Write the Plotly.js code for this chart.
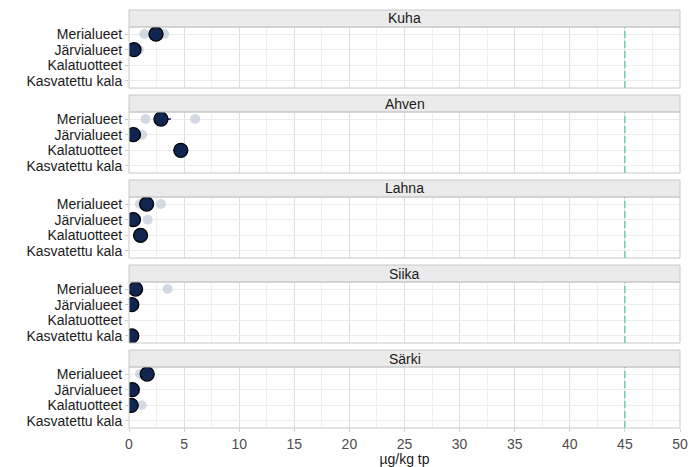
<!DOCTYPE html>
<html>
<head>
<meta charset="utf-8">
<script src="https://cdn.plot.ly/plotly-3.0.1.min.js"></script>
<style>html,body{margin:0;padding:0;background:#fff;}#chart{width:691px;height:467px;}</style>
</head>
<body>
<div id="chart"></div>
<script>
// ---- data ----
const fish = ['Kuha', 'Ahven', 'Lahna', 'Siika', 'Särki'];
const categories = ['Merialueet', 'Järvialueet', 'Kalatuotteet', 'Kasvatettu kala'];
// mean values per fish (order follows categories), null = no data
const meanKuha  = [2.45, 0.45, null, null];
const meanAhven = [2.9, 0.4, 4.7, null];
const meanLahna = [1.6, 0.4, 1.05, null];
const meanSiika = [0.6, 0.25, null, 0.25];
const meanSarki = [1.65, 0.3, 0.2, null];
const means = [meanKuha, meanAhven, meanLahna, meanSiika, meanSarki];
// individual (light) values
const sampleFish     = ['Kuha', 'Kuha', 'Kuha', 'Ahven', 'Ahven', 'Ahven', 'Lahna', 'Lahna', 'Lahna', 'Siika', 'Särki', 'Särki'];
const sampleCategory = ['Merialueet', 'Merialueet', 'Järvialueet', 'Merialueet', 'Merialueet', 'Järvialueet', 'Merialueet', 'Merialueet', 'Järvialueet', 'Merialueet', 'Merialueet', 'Kalatuotteet'];
const sampleValue    = [1.4, 3.2, 0.9, 1.5, 6.0, 1.2, 1.0, 2.9, 1.7, 3.5, 1.0, 1.15];
// range segment (dark line)
const segFish = ['Ahven'];
const segCategory = ['Merialueet'];
const segFrom = [2.9];
const segTo = [3.8];
const limitValue = 45;
const xTicks = [0, 5, 10, 15, 20, 25, 30, 35, 40, 45, 50];
const xTitle = 'µg/kg tp';

// ---- layout geometry ----
const W = 691, H = 467;
const mT = 27, mB = 39, mL = 129, mR = 11;
const plotH = H - mT - mB;
const period = 85, panelH = 61, stripH = 17;
const FONT = 'Liberation Sans, Arial, sans-serif';

const traces = [];
const layout = {
  width: W, height: H,
  margin: {l: mL, r: mR, t: mT, b: mB, pad: 0},
  paper_bgcolor: '#fff', plot_bgcolor: '#fff',
  showlegend: false,
  font: {family: FONT, size: 14, color: '#1a1a1a'},
  shapes: [], annotations: [],
  xaxis: {
    range: [0, 50], tickmode: 'array', tickvals: xTicks, ticktext: xTicks.map(String),
    showgrid: true, gridcolor: '#dedede', gridwidth: 1,
    minor: {dtick: 2.5, tick0: 0, showgrid: true, gridcolor: '#efefef', gridwidth: 1},
    zeroline: false, showline: false,
    ticks: 'outside', ticklen: 3, tickcolor: '#cfcfcf',
    tickfont: {family: FONT, size: 14, color: '#4d4d4d'},
    title: {text: xTitle, font: {family: FONT, size: 14, color: '#1a1a1a'}, standoff: 0},
    anchor: 'y5', fixedrange: true
  }
};

function pix2paper(p) { return (H - mB - p) / plotH; }

fish.forEach((f, i) => {
  const top = mT + i * period;
  const bottom = top + panelH;
  const yname = i === 0 ? 'y' : 'y' + (i + 1);
  const ykey = i === 0 ? 'yaxis' : 'yaxis' + (i + 1);
  layout[ykey] = {
    domain: [pix2paper(bottom), pix2paper(top)],
    type: 'category', categoryorder: 'array', categoryarray: categories,
    tickmode: 'array', tickvals: categories, ticktext: categories,
    range: [3.45, -0.45],
    showgrid: true, gridcolor: '#ececec', gridwidth: 1,
    zeroline: false, showline: false,
    ticks: 'outside', ticklen: 3, tickcolor: '#cfcfcf',
    tickfont: {family: FONT, size: 14, color: '#1a1a1a'},
    anchor: 'x', fixedrange: true
  };
  // panel border
  layout.shapes.push({type: 'rect', xref: 'x domain', yref: yname + ' domain', x0: 0, x1: 1, y0: 0, y1: 1,
    line: {color: '#c8c8c8', width: 1}, fillcolor: 'rgba(0,0,0,0)', layer: 'above'});
  // strip
  layout.shapes.push({type: 'rect', xref: 'paper', yref: 'paper', x0: 0, x1: 1,
    y0: pix2paper(top), y1: pix2paper(top - stripH),
    line: {color: '#c8c8c8', width: 1}, fillcolor: '#ebebeb', layer: 'below'});
  layout.annotations.push({xref: 'paper', yref: 'paper', x: 0.5, y: pix2paper(top - stripH / 2),
    text: f, showarrow: false, xanchor: 'center', yanchor: 'middle',
    font: {family: FONT, size: 14, color: '#1a1a1a'}});
  // limit line
  layout.shapes.push({type: 'line', xref: 'x', yref: yname + ' domain', x0: limitValue, x1: limitValue, y0: 0, y1: 1,
    line: {color: '#5cc5b0', width: 1.3, dash: '7px,3px'}, layer: 'above'});

  // light sample points
  const sx = [], sy = [];
  sampleFish.forEach((sf, k) => { if (sf === f) { sx.push(sampleValue[k]); sy.push(sampleCategory[k]); } });
  traces.push({type: 'scatter', mode: 'markers', x: sx, y: sy, xaxis: 'x', yaxis: yname,
    marker: {size: 10, color: 'rgba(192,202,216,0.7)', line: {width: 0}}, cliponaxis: true, hoverinfo: 'skip'});
  // dark segments
  segFish.forEach((sf, k) => {
    if (sf === f) {
      traces.push({type: 'scatter', mode: 'lines', x: [segFrom[k], segTo[k]], y: [segCategory[k], segCategory[k]],
        xaxis: 'x', yaxis: yname, line: {color: '#0b1733', width: 1.5}, hoverinfo: 'skip'});
    }
  });
  // mean points
  const mx = [], my = [];
  means[i].forEach((v, k) => { if (v !== null) { mx.push(v); my.push(categories[k]); } });
  traces.push({type: 'scatter', mode: 'markers', x: mx, y: my, xaxis: 'x', yaxis: yname,
    marker: {size: 14, color: '#102550', line: {color: '#000000', width: 1.3}}, cliponaxis: true, hoverinfo: 'skip'});
});

Plotly.newPlot('chart', traces, layout, {displayModeBar: false, staticPlot: true});
</script>
</body>
</html>
